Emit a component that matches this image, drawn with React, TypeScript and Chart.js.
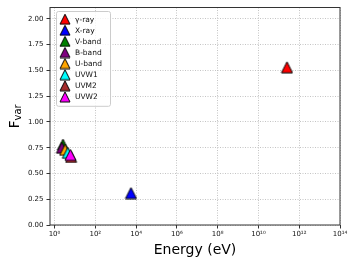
import React, { useEffect, useRef } from 'react';
import { Chart, registerables } from 'chart.js';

Chart.register(...registerables);

const seriesLabels = ['γ-ray', 'X-ray', 'V-band', 'B-band', 'U-band', 'UVW1', 'UVM2', 'UVW2'];
const energies = [2.5e11, 5.6e3, 2.6, 2.3, 3.3, 4.5, 6.5, 6.0];
const fvarValues = [1.53, 0.31, 0.78, 0.75, 0.73, 0.7, 0.66, 0.68];
const seriesColors = ['#ff0000', '#0000ff', '#008000', '#800080', '#ffa500', '#00ffff', '#a52a2a', '#ff00ff'];
const xTickExponents = [0, 2, 4, 6, 8, 10, 12, 14];
const yTickValues = [0, 0.25, 0.5, 0.75, 1.0, 1.25, 1.5, 1.75, 2.0];
const xMin = Math.pow(10, -0.196);
const xMax = 1e14;
const yMin = 0;
const yMax = 2.11;
const xLabel = 'Energy (eV)';
const yLabelMain = 'F';
const yLabelSub = 'var';

const FONT = '"DejaVu Sans", sans-serif';
const SUP = '⁰¹²³⁴⁵⁶⁷⁸⁹';
const toSup = (n: number) => String(n).split('').map((d) => SUP[Number(d)]).join('');

function makeTriangle(color: string, size: number) {
  const pad = 1;
  const c = document.createElement('canvas');
  c.width = size + 2 * pad;
  c.height = size + 2 * pad;
  const ctx = c.getContext('2d')!;
  ctx.beginPath();
  ctx.moveTo(pad + size / 2, pad);
  ctx.lineTo(pad + size, pad + size);
  ctx.lineTo(pad, pad + size);
  ctx.closePath();
  ctx.fillStyle = color;
  ctx.fill();
  ctx.lineWidth = 1;
  ctx.strokeStyle = '#000';
  ctx.stroke();
  return c;
}

const decorPlugin = {
  id: 'decor',
  afterDatasetsDraw(chart: any) {
    const { ctx, chartArea } = chart;
    const { left, right, top, bottom } = chartArea;
    ctx.save();
    ctx.strokeStyle = '#333';
    ctx.lineWidth = 1;
    ctx.strokeRect(left, top, right - left, bottom - top);
    ctx.restore();
  },
  afterDraw(chart: any) {
    const { ctx, chartArea } = chart;
    const { left, right, top, bottom } = chartArea;
    // legend
    ctx.save();
    const lx = left + 6;
    const ly = top + 3.5;
    const lw = 54;
    const rowH = 11.1;
    const lh = rowH * seriesLabels.length + 6;
    ctx.beginPath();
    if ((ctx as any).roundRect) (ctx as any).roundRect(lx + 0.5, ly + 0.5, lw, lh, 2);
    else ctx.rect(lx + 0.5, ly + 0.5, lw, lh);
    ctx.fillStyle = 'rgba(255,255,255,0.8)';
    ctx.fill();
    ctx.strokeStyle = '#cccccc';
    ctx.lineWidth = 1;
    ctx.stroke();
    ctx.font = `7.5px ${FONT}`;
    ctx.fillStyle = '#111';
    ctx.textBaseline = 'middle';
    ctx.textAlign = 'left';
    seriesLabels.forEach((lab, i) => {
      const cy = ly + 8.2 + i * rowH;
      const img = makeTriangle(seriesColors[i], 10);
      ctx.drawImage(img, lx + 9 - img.width / 2, cy - img.height / 2);
      ctx.fillText(lab, lx + 19, cy + 0.5);
    });
    // x title
    ctx.fillStyle = '#000';
    ctx.textAlign = 'center';
    ctx.textBaseline = 'alphabetic';
    ctx.font = `14px ${FONT}`;
    ctx.fillText(xLabel, (left + right) / 2, 253.5);
    // y title (rotated)
    ctx.save();
    ctx.translate(19, (top + bottom) / 2);
    ctx.rotate(-Math.PI / 2);
    ctx.font = `13.5px ${FONT}`;
    const wF = ctx.measureText(yLabelMain).width;
    ctx.font = `10px ${FONT}`;
    const wS = ctx.measureText(yLabelSub).width;
    const start = -(wF + wS) / 2;
    ctx.textAlign = 'left';
    ctx.font = `13.5px ${FONT}`;
    ctx.fillText(yLabelMain, start, 0);
    ctx.font = `10px ${FONT}`;
    ctx.fillText(yLabelSub, start + wF, 2);
    ctx.restore();
    ctx.restore();
  },
};

export default function App() {
  const ref = useRef<HTMLCanvasElement | null>(null);
  useEffect(() => {
    if (!ref.current) return;
    const datasets = seriesLabels.map((lab, i) => ({
      label: lab,
      data: [{ x: energies[i], y: fvarValues[i] }],
      pointStyle: makeTriangle(seriesColors[i], 11),
      pointRadius: 6,
      backgroundColor: seriesColors[i],
      borderColor: '#000',
      showLine: false,
      order: seriesLabels.length - i,
    }));
    const chart = new Chart(ref.current, {
      type: 'scatter',
      data: { datasets },
      plugins: [decorPlugin],
      options: {
        animation: false,
        responsive: true,
        maintainAspectRatio: false,
        layout: { padding: { left: 0, right: 17, top: 7.5, bottom: 0 } },
        plugins: { legend: { display: false }, tooltip: { enabled: false } },
        scales: {
          x: {
            type: 'logarithmic',
            min: xMin,
            max: xMax,
            afterBuildTicks: (scale: any) => {
              scale.ticks = xTickExponents.map((e) => ({ value: Math.pow(10, e) }));
            },
            afterFit: (scale: any) => {
              scale.height = 43;
            },
            ticks: {
              autoSkip: false,
              maxRotation: 0,
              padding: 1,
              color: '#111',
              font: { family: FONT, size: 7 },
              callback: (v: any) => '10' + toSup(Math.round(Math.log10(Number(v)))),
            },
            grid: {
              color: '#b5b5b5',
              lineWidth: 0.8,
              drawTicks: true,
              tickLength: 3.5,
              tickColor: '#333',
              tickWidth: 1,
              tickBorderDash: [],
            },
            border: { display: false, dash: [1, 1.5] },
          },
          y: {
            type: 'linear',
            min: yMin,
            max: yMax,
            afterBuildTicks: (scale: any) => {
              scale.ticks = yTickValues.map((v) => ({ value: v }));
            },
            afterFit: (scale: any) => {
              scale.width = 50;
            },
            ticks: {
              padding: 3,
              color: '#111',
              font: { family: FONT, size: 7 },
              callback: (v: any) => Number(v).toFixed(2),
            },
            grid: {
              color: '#b5b5b5',
              lineWidth: 0.8,
              drawTicks: true,
              tickLength: 3.5,
              tickColor: '#333',
              tickWidth: 1,
              tickBorderDash: [],
            },
            border: { display: false, dash: [1, 1.5] },
          },
        },
      } as any,
    });
    return () => chart.destroy();
  }, []);
  return (
    <div style={{ position: 'absolute', left: 0, top: 0, width: 357, height: 268 }}>
      <canvas ref={ref} />
    </div>
  );
}
